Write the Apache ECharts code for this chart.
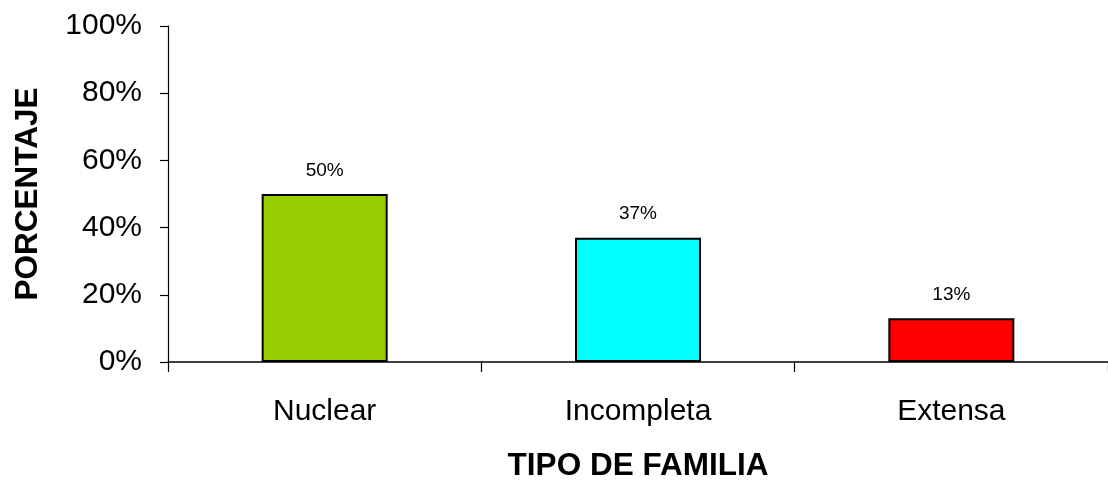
<!DOCTYPE html>
<html>
<head>
<meta charset="utf-8">
<script src="https://cdn.jsdelivr.net/npm/echarts@6/dist/echarts.min.js"></script>
<style>
  html, body { margin: 0; padding: 0; background: #fff; }
  #chart { width: 1108px; height: 481px; }
</style>
</head>
<body>
<div id="chart"></div>
<script>
// datos
var categorias = ['Nuclear', 'Incompleta', 'Extensa'];
var porcentajes = [50, 37, 13];
var colores = ['#99CC00', '#00FFFF', '#FF0000'];

var chart = echarts.init(document.getElementById('chart'));

var option = {
    animation: false,
    grid: { left: 168, top: 26, right: 0, bottom: 119, outerBoundsMode: 'none', containLabel: false },
    xAxis: {
        type: 'category',
        data: categorias,
        name: 'TIPO DE FAMILIA',
        nameLocation: 'middle',
        nameGap: 88,
        nameTextStyle: { fontFamily: 'Liberation Sans', fontWeight: 'bold', fontSize: 31.5, color: '#000' },
        axisLine: { lineStyle: { color: '#000', width: 1.5 } },
        axisTick: { show: true, length: 10, lineStyle: { color: '#000', width: 1.2 } },
        axisLabel: { margin: 35, fontFamily: 'Liberation Sans', fontSize: 30, color: '#000' },
        splitLine: { show: false }
    },
    yAxis: {
        type: 'value',
        min: 0,
        max: 100,
        interval: 20,
        name: 'PORCENTAJE',
        nameLocation: 'middle',
        nameGap: 124,
        nameTextStyle: { fontFamily: 'Liberation Sans', fontWeight: 'bold', fontSize: 31.5, color: '#000' },
        axisLine: { show: true, lineStyle: { color: '#000', width: 1.2 } },
        axisTick: { show: true, length: 8, lineStyle: { color: '#000', width: 1.2 } },
        axisLabel: {
            margin: 26, fontFamily: 'Liberation Sans', fontSize: 30, color: '#000',
            formatter: '{value}%'
        },
        splitLine: { show: false }
    },
    series: [{
        type: 'bar',
        barWidth: 126,
        data: porcentajes.map(function (v, i) {
            return { value: v, itemStyle: { color: colores[i] } };
        }),
        itemStyle: { borderColor: '#000', borderWidth: 2 },
        label: {
            show: true,
            position: 'top',
            distance: 14,
            fontFamily: 'Liberation Sans',
            fontSize: 19,
            color: '#000',
            formatter: '{c}%'
        }
    }]
};

chart.setOption(option);
</script>
</body>
</html>
